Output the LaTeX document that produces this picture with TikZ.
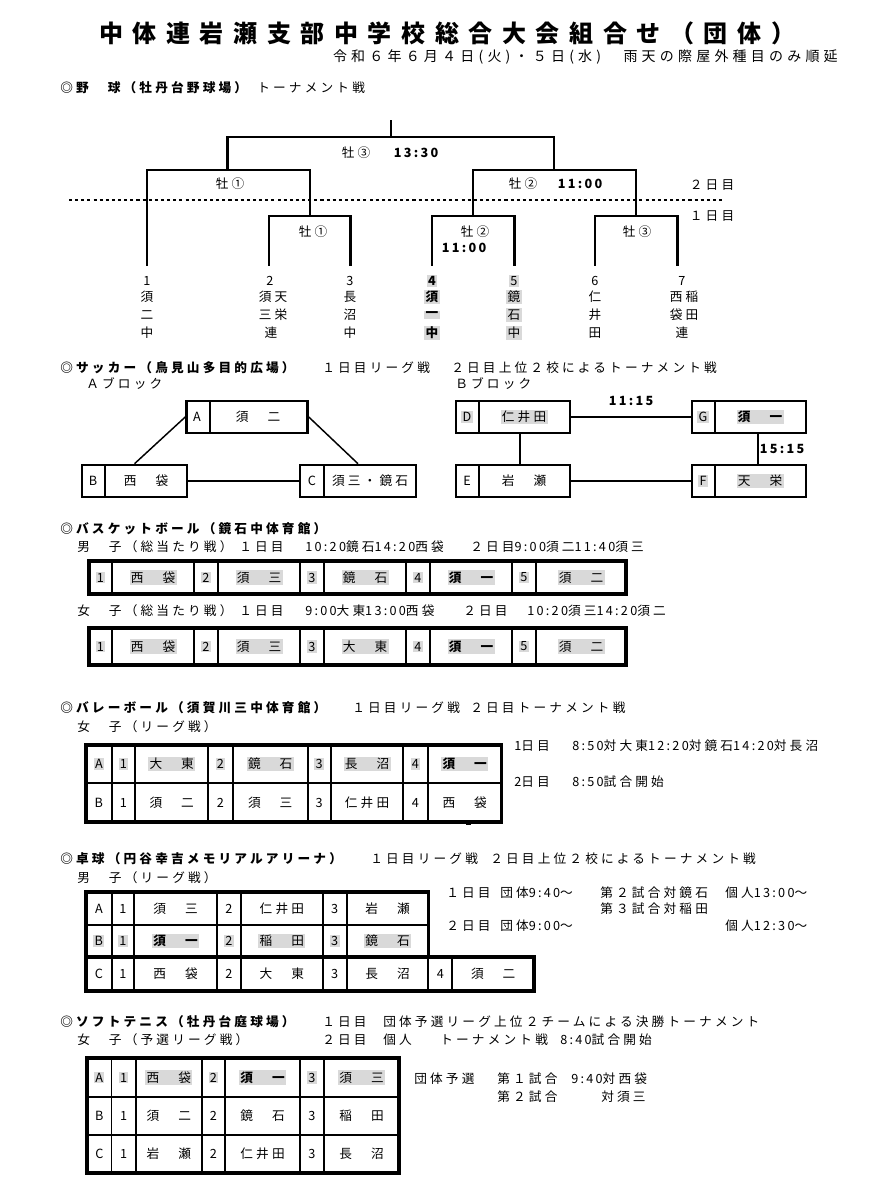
\documentclass[tikz,border=0pt]{standalone}
\usepackage{fontspec}
\setmainfont{Noto Sans CJK JP}
\newfontfamily\jp{Noto Sans CJK JP}[LetterSpace=25]
\newfontfamily\jpn{Noto Sans CJK JP}[LetterSpace=18]
\newfontfamily\jpt{Noto Sans CJK JP}[LetterSpace=40]
\newfontfamily\jps{Noto Sans CJK JP}[LetterSpace=30]
\newcommand\dg[1]{{\jpn#1}}
\definecolor{hlg}{HTML}{D9D9D9}
\newcounter{nd}
\newcommand\T[4][]{\stepcounter{nd}\node[txt,#1] (n\arabic{nd}) at (#2,#3) {#4};}
\tikzset{
  txt/.style={font=\fontsize{9.5}{11}\selectfont\jp, inner sep=0pt, anchor=west},
  c/.style={anchor=center},
  b/.style={font=\fontsize{9.5}{11}\selectfont\jp\bfseries},
  hl/.style={fill=hlg, inner xsep=1pt, inner ysep=1pt},
  br/.style={line width=2.1pt, line cap=rect},
  dotl/.style={line width=2.2pt, dash pattern=on 2.3pt off 2.3pt},
  tbo/.style={line width=2.3pt},
  tbi/.style={line width=1.4pt},
  tbr/.style={line width=1.9pt},
  sbox/.style={draw, line width=1.9pt, inner sep=0pt},
  cn/.style={line width=1.1pt},
}
\begin{document}
\begin{tikzpicture}[x=0.75pt,y=-0.75pt]
\useasboundingbox (0,0) rectangle (880,1200);
\fill[white] (0,0) rectangle (880,1200);

% title
\node[font=\fontsize{18}{20}\selectfont\jpt\bfseries, inner sep=0pt] (title) at (447,33) {中体連岩瀬支部中学校総合大会組合せ（団体）};
\node[font=\fontsize{10.5}{12}\selectfont\jps, inner sep=0pt, anchor=east] (sub) at (838,57) {令和６年６月４日(火)・５日(水)　雨天の際屋外種目のみ順延};

% ===== baseball =====
\T[b]{60}{88}{◎野　球（牡丹台野球場）}
\T{257}{88}{トーナメント戦}
\draw[br] (391,121) -- (391,137);
\draw[br] (227.5,170) -- (227.5,137) -- (554,137) -- (554,170);
\draw[br] (147,265) -- (147,170) -- (310,170) -- (310,216);
\draw[br] (473,216) -- (473,170) -- (636,170) -- (636,216);
\draw[br] (269,265) -- (269,216) -- (350.5,216) -- (350.5,265);
\draw[br] (432,265) -- (432,216) -- (514.5,216) -- (514.5,265);
\draw[br] (595,265) -- (595,216) -- (677.5,216) -- (677.5,265);
\draw[dotl] (69,200) -- (722,200);
\T[c]{356}{153}{牡③}
\T[c,b]{416}{153}{\dg{13:30}}
\T[c]{230}{184}{牡①}
\T[c]{523}{184}{牡②}
\T[c,b]{580}{184}{\dg{11:00}}
\T[c]{712}{185}{２日目}
\T[c]{712}{216}{１日目}
\T[c]{313}{232}{牡①}
\T[c]{475}{232}{牡②}
\T[c,b]{464}{248}{\dg{11:00}}
\T[c]{637}{232}{牡③}
% teams
\T[c]{147}{281}{1}\T[c]{147}{297}{須}\T[c]{147}{315}{二}\T[c]{147}{333}{中}
\T[c]{270}{281}{2}\T[c]{273}{297}{須天}\T[c]{273}{315}{三栄}\T[c]{271}{333}{連}
\T[c]{350}{281}{3}\T[c]{350}{297}{長}\T[c]{350}{315}{沼}\T[c]{350}{333}{中}
\T[c,b,hl]{432}{281}{4}\T[c,b,hl]{432}{297}{須}\T[c,b,hl]{432}{315}{一}\T[c,b,hl]{432}{333}{中}
\T[c,hl]{514}{281}{5}\T[c,hl]{514}{297}{鏡}\T[c,hl]{514}{315}{石}\T[c,hl]{514}{333}{中}
\T[c]{595}{281}{6}\T[c]{595}{297}{仁}\T[c]{595}{315}{井}\T[c]{595}{333}{田}
\T[c]{682}{281}{7}\T[c]{684}{297}{西稲}\T[c]{684}{315}{袋田}\T[c]{682}{333}{連}

% ===== soccer =====
\T[b]{60}{368}{◎サッカー（鳥見山多目的広場）}
\T{322}{368}{１日目リーグ戦}
\T{451}{368}{２日目上位２校によるトーナメント戦}
\T{86}{384}{Ａブロック}
\T{455}{384}{Ｂブロック}
\node[sbox, minimum width=121*0.75pt, minimum height=32*0.75pt] (sA) at (247,417) {};
\node[sbox, minimum width=105*0.75pt, minimum height=32*0.75pt] (sB) at (134.5,481) {};
\node[sbox, minimum width=116*0.75pt, minimum height=32*0.75pt] (sC) at (358,481) {};
\node[sbox, minimum width=114*0.75pt, minimum height=32*0.75pt] (sD) at (513,417) {};
\node[sbox, minimum width=114*0.75pt, minimum height=32*0.75pt] (sG) at (749,417) {};
\node[sbox, minimum width=114*0.75pt, minimum height=32*0.75pt] (sE) at (513,481) {};
\node[sbox, minimum width=114*0.75pt, minimum height=32*0.75pt] (sF) at (749,481) {};
\draw[cn] (210,401) -- (210,433);
\draw[cn] (105,465) -- (105,497);
\draw[cn] (324,465) -- (324,497);
\draw[cn] (479,401) -- (479,433);
\draw[cn] (715,401) -- (715,433);
\draw[cn] (479,465) -- (479,497);
\draw[cn] (715,465) -- (715,497);
\T[c]{197}{417}{A}\T[c]{258}{417}{須　二}
\T[c]{93}{481}{B}\T[c]{146}{481}{西　袋}
\T[c]{312}{481}{C}\T[c]{370}{481}{須三・鏡石}
\T[c,hl]{467}{417}{D}\T[c,hl]{524}{417}{仁井田}
\T[c,hl]{703}{417}{G}\T[c,hl,b]{760}{417}{須　一}
\T[c]{467}{481}{E}\T[c]{524}{481}{岩　瀬}
\T[c,hl]{703}{481}{F}\T[c,hl]{760}{481}{天　栄}
\draw[cn] (sA.west) -- (sB.north);
\draw[cn] (sA.east) -- (sC.north);
\draw[cn] (sB.east) -- (sC.west);
\draw[cn] (sD.east) -- (sG.west);
\draw[cn] (sE.east) -- (sF.west);
\draw[cn] ([xshift=5.25pt]sD.south) -- ([xshift=5.25pt]sE.north);
\draw[cn] ([xshift=6.75pt]sG.south) -- ([xshift=6.75pt]sF.north);
\T[c,b]{631}{401}{\dg{11:15}}
\T[c,b]{782}{449}{\dg{15:15}}

% ===== basketball =====
\T[b]{60}{529}{◎バスケットボール（鏡石中体育館）}
\T{77}{547}{男　子（総当たり戦）}
\T{239}{547}{１日目}
\T{305}{547}{\dg{10:20}鏡石\dg{14:20}西袋}
\T{470}{547}{２日目\dg{9:00}須二\dg{11:40}須三}
\draw[tbo] (89,561) rectangle (626,594);
\foreach \x in {112,194,218,300,324,406,430,512,536} \draw[tbi] (\x,561) -- (\x,594);
\T[c,hl]{100.5}{577.5}{1}\T[c,hl]{153}{577.5}{西　袋}
\T[c,hl]{206}{577.5}{2}\T[c,hl]{259}{577.5}{須　三}
\T[c,hl]{312}{577.5}{3}\T[c,hl]{365}{577.5}{鏡　石}
\T[c,hl]{418}{577.5}{4}\T[c,hl,b]{471}{577.5}{須　一}
\T[c,hl]{524}{577.5}{5}\T[c,hl]{581}{577.5}{須　二}
\T{77}{611}{女　子（総当たり戦）}
\T{239}{611}{１日目}
\T{305}{611}{\dg{9:00}大東\dg{13:00}西袋}
\T{463}{611}{２日目}
\T{527}{611}{\dg{10:20}須三\dg{14:20}須二}
\draw[tbo] (89,628) rectangle (626,665);
\foreach \x in {112,194,218,300,324,406,430,512,536} \draw[tbi] (\x,628) -- (\x,665);
\T[c,hl]{100.5}{646.5}{1}\T[c,hl]{153}{646.5}{西　袋}
\T[c,hl]{206}{646.5}{2}\T[c,hl]{259}{646.5}{須　三}
\T[c,hl]{312}{646.5}{3}\T[c,hl]{365}{646.5}{大　東}
\T[c,hl]{418}{646.5}{4}\T[c,hl,b]{471}{646.5}{須　一}
\T[c,hl]{524}{646.5}{5}\T[c,hl]{581}{646.5}{須　二}

% ===== volleyball =====
\T[b]{60}{708}{◎バレーボール（須賀川三中体育館）}
\T{352}{708}{１日目リーグ戦}
\T{470}{708}{２日目トーナメント戦}
\T{77}{727}{女　子（リーグ戦）}
\T{514}{746}{\dg{1}日目}
\T{572}{746}{\dg{8:50}対大東\dg{12:20}対鏡石\dg{14:20}対長沼}
\T{514}{782}{\dg{2}日目}
\T{572}{782}{\dg{8:50}試合開始}
\draw[tbo] (86,745) rectangle (501.7,822);
\draw[tbr] (86,783) -- (501.7,783);
\foreach \x in {111.7,135,208.3,232.7,307.7,330.7,403.3,427.7} \draw[tbi] (\x,745) -- (\x,822);
\T[c,hl]{98.9}{764}{A}\T[c,hl]{123.4}{764}{1}\T[c,hl]{171.7}{764}{大　東}
\T[c,hl]{220.5}{764}{2}\T[c,hl]{270.2}{764}{鏡　石}
\T[c,hl]{319.2}{764}{3}\T[c,hl]{367}{764}{長　沼}
\T[c,hl]{415.5}{764}{4}\T[c,hl,b]{464.7}{764}{須　一}
\T[c]{98.9}{802.5}{B}\T[c]{123.4}{802.5}{1}\T[c]{171.7}{802.5}{須　二}
\T[c]{220.5}{802.5}{2}\T[c]{270.2}{802.5}{須　三}
\T[c]{319.2}{802.5}{3}\T[c]{367}{802.5}{仁井田}
\T[c]{415.5}{802.5}{4}\T[c]{464.7}{802.5}{西　袋}
\fill (466.3,820.3) rectangle (470.7,824.7);

% ===== table tennis =====
\T[b]{60}{859}{◎卓球（円谷幸吉メモリアルアリーナ）}
\T{370}{859}{１日目リーグ戦}
\T{490}{859}{２日目上位２校によるトーナメント戦}
\T{77}{878}{男　子（リーグ戦）}
\T{446}{893}{１日目}
\T{500}{893}{団体\dg{9:40}～}
\T{600}{893}{第２試合対鏡石}
\T{725}{893}{個人\dg{13:00}～}
\T{600}{909}{第３試合対稲田}
\T{446}{926}{２日目}
\T{500}{926}{団体\dg{9:00}～}
\T{725}{926}{個人\dg{12:30}～}
\draw[tbo] (86,892) rectangle (428.3,957);
\draw[tbo] (86,957) rectangle (534,991);
\draw[tbr] (86,925) -- (428.3,925);
\foreach \x in {111.7,134.3,216.7,241,322.7,346.7} \draw[tbi] (\x,892) -- (\x,991);
\foreach \x in {428.3,452.3} \draw[tbi] (\x,957) -- (\x,991);
\T[c]{98.9}{908.5}{A}\T[c]{123}{908.5}{1}\T[c]{175.5}{908.5}{須　三}
\T[c]{228.9}{908.5}{2}\T[c]{281.9}{908.5}{仁井田}
\T[c]{334.7}{908.5}{3}\T[c]{387.5}{908.5}{岩　瀬}
\T[c,hl]{98.9}{941}{B}\T[c,hl]{123}{941}{1}\T[c,hl,b]{175.5}{941}{須　一}
\T[c,hl]{228.9}{941}{2}\T[c,hl]{281.9}{941}{稲　田}
\T[c,hl]{334.7}{941}{3}\T[c,hl]{387.5}{941}{鏡　石}
\T[c]{98.9}{974}{C}\T[c]{123}{974}{1}\T[c]{175.5}{974}{西　袋}
\T[c]{228.9}{974}{2}\T[c]{281.9}{974}{大　東}
\T[c]{334.7}{974}{3}\T[c]{387.5}{974}{長　沼}
\T[c]{440.3}{974}{4}\T[c]{493.2}{974}{須　二}

% ===== soft tennis =====
\T[b]{60}{1022}{◎ソフトテニス（牡丹台庭球場）}
\T{322}{1022}{１日目}
\T{383}{1022}{団体予選リーグ上位２チームによる決勝トーナメント}
\T{77}{1040}{女　子（予選リーグ戦）}
\T{322}{1040}{２日目}
\T{383}{1040}{個人}
\T{440}{1040}{トーナメント戦}
\T{560}{1040}{\dg{8:40}試合開始}
\T{414}{1079}{団体予選}
\T{497}{1079}{第１試合}
\T{571}{1079}{\dg{9:40}対西袋}
\T{497}{1097}{第２試合}
\T{601}{1097}{対須三}
\draw[tbo] (87,1058) rectangle (399,1173);
\draw[tbr] (87,1097) -- (399,1097);
\draw[tbr] (87,1135) -- (399,1135);
\foreach \x in {111.5,135.6,202,225,300,324} \draw[tbi] (\x,1058) -- (\x,1173);
\T[c,hl]{99.3}{1077.5}{A}\T[c,hl]{123.6}{1077.5}{1}\T[c,hl]{168.8}{1077.5}{西　袋}
\T[c,hl]{213.5}{1077.5}{2}\T[c,hl,b]{262.5}{1077.5}{須　一}
\T[c,hl]{312}{1077.5}{3}\T[c,hl]{361.5}{1077.5}{須　三}
\T[c]{99.3}{1116}{B}\T[c]{123.6}{1116}{1}\T[c]{168.8}{1116}{須　二}
\T[c]{213.5}{1116}{2}\T[c]{262.5}{1116}{鏡　石}
\T[c]{312}{1116}{3}\T[c]{361.5}{1116}{稲　田}
\T[c]{99.3}{1154}{C}\T[c]{123.6}{1154}{1}\T[c]{168.8}{1154}{岩　瀬}
\T[c]{213.5}{1154}{2}\T[c]{262.5}{1154}{仁井田}
\T[c]{312}{1154}{3}\T[c]{361.5}{1154}{長　沼}
\end{tikzpicture}
\end{document}
